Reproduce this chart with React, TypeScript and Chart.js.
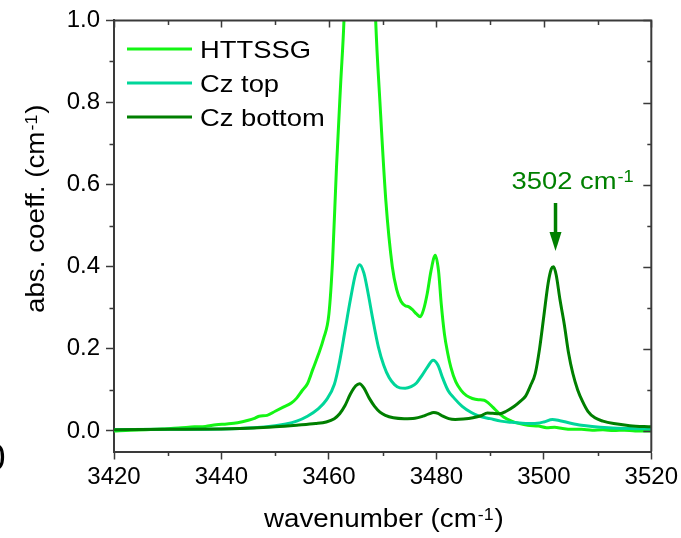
import React, { useEffect, useRef } from 'react';
import { Chart, registerables } from 'chart.js';

Chart.register(...registerables);

// ---------- data ----------
const SERIES_LABELS = ['HTTSSG', 'Cz top', 'Cz bottom'];
const SERIES_COLORS = ['#14f514', '#00d69a', '#007f00'];

const HTTSSG_X = [
  3420, 3423, 3426, 3429, 3432, 3435, 3437, 3439, 3441, 3443, 3445, 3446, 3447, 3448.5, 3450,
  3451.5, 3453, 3454, 3455, 3456, 3457, 3458, 3459, 3460, 3460.7, 3461.4, 3462.2, 3462.8, 3463.6,
  3464.8, 3466, 3467.2, 3468, 3468.7, 3469.5, 3470.6, 3471.8, 3472.6, 3473.4, 3474.2, 3474.8,
  3475.5, 3476.3, 3477.0, 3477.6, 3478.3, 3479.0, 3479.8, 3480.4, 3480.9, 3481.5, 3482.1, 3482.7,
  3483.6, 3484.6, 3485.6, 3486.7, 3487.8, 3488.9, 3489.6, 3490.5, 3491.5, 3492.5, 3494, 3495.5,
  3497, 3499, 3500.5, 3502, 3503.5, 3505, 3507, 3509, 3511, 3513, 3515, 3517, 3520,
];
const HTTSSG_Y = [
  0.0, 0.002, 0.003, 0.005, 0.007, 0.01, 0.011, 0.015, 0.017, 0.02, 0.026, 0.03, 0.036, 0.038, 0.048,
  0.058, 0.068, 0.08, 0.098, 0.115, 0.15, 0.185, 0.225, 0.285, 0.42, 0.64, 0.85, 1.0, 1.35,
  1.9, 2.3, 1.8, 1.3, 1.0, 0.8, 0.56, 0.4, 0.345, 0.316, 0.305, 0.303,
  0.296, 0.285, 0.278, 0.295, 0.335, 0.39, 0.428, 0.39, 0.31, 0.236, 0.19, 0.155,
  0.12, 0.099, 0.086, 0.079, 0.076, 0.075, 0.069, 0.058, 0.045, 0.034, 0.024, 0.018,
  0.014, 0.012, 0.008, 0.009, 0.006, 0.004, 0.004, 0.002, 0.003, 0.001, 0.002, 0.0, 0.0,
];

const CZTOP_X = [
  3420, 3430, 3440, 3446, 3450, 3452, 3454, 3456, 3458, 3459.5, 3461, 3462, 3463, 3464, 3465,
  3465.7, 3466.5, 3467.3, 3468.2, 3469.2, 3470.2, 3471.2, 3472.2, 3473.2, 3474.2, 3475.3, 3476.3,
  3477.3, 3478.3, 3479.4, 3480.3, 3481.2, 3482.2, 3483.3, 3484.8, 3486.5, 3488, 3490, 3492, 3494,
  3496, 3498, 3500, 3501.6, 3503, 3505, 3507, 3509, 3512, 3516, 3520,
];
const CZTOP_Y = [
  0.003, 0.004, 0.005, 0.008, 0.013, 0.017, 0.024, 0.036, 0.054, 0.075, 0.113, 0.17, 0.245, 0.32, 0.385,
  0.405, 0.385, 0.335, 0.27, 0.205, 0.16, 0.13, 0.113, 0.105, 0.104, 0.108, 0.117,
  0.135, 0.155, 0.172, 0.16, 0.128, 0.098, 0.08, 0.06, 0.045, 0.036, 0.03, 0.024, 0.021,
  0.019, 0.018, 0.022, 0.028, 0.025, 0.019, 0.014, 0.011, 0.008, 0.006, 0.005,
];

const CZBOT_X = [
  3420, 3430, 3440, 3446, 3450, 3454, 3457.5, 3459.5, 3461, 3462, 3463, 3464, 3465, 3465.7, 3466.5,
  3467.5, 3468.5, 3469.5, 3470.5, 3472, 3474, 3476, 3477.5, 3478.5, 3479.5, 3480.3, 3481.2, 3482.3,
  3483.5, 3485, 3486.8, 3488.3, 3489.5, 3490.5, 3491.8, 3493, 3494.5, 3495.6, 3496.6, 3497.5,
  3498.4, 3499.2, 3500, 3500.8, 3501.4, 3501.8, 3502.3, 3503, 3503.8, 3504.6, 3505.4, 3506.3,
  3507.2, 3508.2, 3509.5, 3511, 3513, 3516, 3520,
];
const CZBOT_Y = [
  0.003, 0.004, 0.005, 0.007, 0.01, 0.014, 0.018, 0.022, 0.03, 0.042, 0.062, 0.09, 0.11, 0.115, 0.105,
  0.08, 0.06, 0.046, 0.038, 0.032, 0.03, 0.031, 0.036, 0.041, 0.045, 0.043, 0.036, 0.03,
  0.028, 0.029, 0.032, 0.037, 0.044, 0.043, 0.042, 0.048, 0.06, 0.072, 0.085, 0.11,
  0.14, 0.2, 0.28, 0.36, 0.395, 0.4, 0.38, 0.32, 0.26, 0.19, 0.14, 0.1,
  0.072, 0.048, 0.032, 0.024, 0.018, 0.013, 0.01,
];

const X_TICKS = [3420, 3440, 3460, 3480, 3500, 3520];
const X_MINOR = [3430, 3450, 3470, 3490, 3510];
const Y_TICKS = [0.0, 0.2, 0.4, 0.6, 0.8, 1.0];
const Y_MINOR = [0.1, 0.3, 0.5, 0.7, 0.9];

const X_TITLE = ['wavenumber (cm', '-1', ')'];
const Y_TITLE = ['abs. coeff. (cm', '-1', ')'];
const PEAK_LABEL = ['3502 cm', '-1'];
const PEAK_X = 3501.8;
const PEAK_COLOR = '#008000';

// ---------- helpers ----------
const FONT = '"Liberation Sans", Arial, Helvetica, sans-serif';
const AXIS_COLOR = '#3a3a3a';

function txt(ctx: CanvasRenderingContext2D, text: string, x: number, y: number, size: number, sx: number) {
  ctx.save();
  ctx.font = `${size}px ${FONT}`;
  ctx.translate(x, y);
  ctx.scale(sx, 1);
  ctx.textAlign = 'left';
  ctx.textBaseline = 'alphabetic';
  ctx.fillText(text, 0, 0);
  const w = ctx.measureText(text).width * sx;
  ctx.restore();
  return w;
}

// draws "base" + superscript + tail starting at (x, baseline y) along local x-axis
function supText(ctx: CanvasRenderingContext2D, parts: string[], x: number, y: number, size: number, supSize: number, sx: number) {
  let cx = x;
  cx += txt(ctx, parts[0], cx, y, size, sx);
  cx += 1;
  cx += txt(ctx, parts[1], cx, y - 7, supSize, sx);
  if (parts[2]) {
    cx += 1;
    cx += txt(ctx, parts[2], cx, y, size, sx);
  }
  return cx - x;
}

const decorPlugin = {
  id: 'decor',
  afterDraw(chart: any) {
    const ctx: CanvasRenderingContext2D = chart.ctx;
    const { left, right, top, bottom } = chart.chartArea;
    const xs = chart.scales.x;
    const ys = chart.scales.y;

    ctx.save();
    ctx.strokeStyle = AXIS_COLOR;
    ctx.lineWidth = 2;
    // top + right frame
    ctx.beginPath();
    ctx.moveTo(left, top);
    ctx.lineTo(right, top);
    ctx.lineTo(right, bottom);
    ctx.stroke();

    ctx.lineWidth = 1.5;
    ctx.beginPath();
    // bottom minor (outward)
    X_MINOR.forEach((v) => {
      const px = Math.round(xs.getPixelForValue(v)) + 0.5;
      ctx.moveTo(px, bottom);
      ctx.lineTo(px, bottom + 4.5);
    });
    // left minor (outward)
    Y_MINOR.forEach((v) => {
      const py = Math.round(ys.getPixelForValue(v)) + 0.5;
      ctx.moveTo(left, py);
      ctx.lineTo(left - 4.5, py);
    });
    // top ticks (inward)
    X_TICKS.forEach((v) => {
      const px = Math.round(xs.getPixelForValue(v)) + 0.5;
      ctx.moveTo(px, top);
      ctx.lineTo(px, top + 7);
    });
    X_MINOR.forEach((v) => {
      const px = Math.round(xs.getPixelForValue(v)) + 0.5;
      ctx.moveTo(px, top);
      ctx.lineTo(px, top + 4.5);
    });
    // right ticks (inward)
    Y_TICKS.forEach((v) => {
      const py = Math.round(ys.getPixelForValue(v)) + 0.5;
      ctx.moveTo(right, py);
      ctx.lineTo(right - 8, py);
    });
    Y_MINOR.forEach((v) => {
      const py = Math.round(ys.getPixelForValue(v)) + 0.5;
      ctx.moveTo(right, py);
      ctx.lineTo(right - 4, py);
    });
    ctx.stroke();

    // legend (inside plot, top-left)
    chart.data.datasets.forEach((ds: any, i: number) => {
      const ly = 49 + i * 34;
      ctx.strokeStyle = ds.borderColor;
      ctx.lineWidth = 3;
      ctx.beginPath();
      ctx.moveTo(127, ly);
      ctx.lineTo(192, ly);
      ctx.stroke();
      ctx.fillStyle = '#000';
      txt(ctx, ds.label, 200, ly + 8.6, 24, 1.14);
    });

    // axis titles
    ctx.fillStyle = '#000';
    supText(ctx, X_TITLE, 264, 527, 25, 16, 1.11);
    ctx.save();
    ctx.translate(44, 313);
    ctx.rotate(-Math.PI / 2);
    supText(ctx, Y_TITLE, 0, 0, 25, 16, 1.11);
    ctx.restore();

    // peak annotation
    const ax = xs.getPixelForValue(PEAK_X) + 2;
    ctx.fillStyle = PEAK_COLOR;
    ctx.strokeStyle = PEAK_COLOR;
    supText(ctx, PEAK_LABEL, ax - 44, 188.5, 24, 16, 1.14);
    ctx.lineWidth = 3.5;
    ctx.beginPath();
    ctx.moveTo(ax, 203);
    ctx.lineTo(ax, 234);
    ctx.stroke();
    ctx.beginPath();
    ctx.moveTo(ax - 6, 232);
    ctx.lineTo(ax + 6, 232);
    ctx.lineTo(ax, 251);
    ctx.closePath();
    ctx.fill();

    // clipped panel-label fragment at the far left edge
    ctx.fillStyle = '#000';
    ctx.font = `37px ${FONT}`;
    ctx.textAlign = 'right';
    ctx.textBaseline = 'alphabetic';
    ctx.fillText('0', 5.5, 470);
    ctx.restore();
  },
};

export default function App() {
  const ref = useRef<HTMLCanvasElement | null>(null);

  useEffect(() => {
    if (!ref.current) return;
    const mk = (xs: number[], ys: number[]) => xs.map((x, i) => ({ x, y: ys[i] }));
    const seriesData = [mk(HTTSSG_X, HTTSSG_Y), mk(CZTOP_X, CZTOP_Y), mk(CZBOT_X, CZBOT_Y)];
    const tickFont = { family: FONT, size: 24 };

    const chart = new Chart(ref.current, {
      type: 'line',
      data: {
        datasets: seriesData.map((d, i) => ({
          label: SERIES_LABELS[i],
          data: d,
          borderColor: SERIES_COLORS[i],
          backgroundColor: SERIES_COLORS[i],
          borderWidth: 3,
          pointRadius: 0,
          fill: false,
          cubicInterpolationMode: 'monotone' as const,
          clip: 0,
          order: 2 - i,
        })),
      },
      options: {
        responsive: false,
        animation: false,
        events: [],
        layout: { padding: { top: 19, right: 29, left: 0, bottom: 0 } },
        plugins: { legend: { display: false }, tooltip: { enabled: false }, title: { display: false } },
        scales: {
          x: {
            type: 'linear',
            min: 3420,
            max: 3520,
            afterBuildTicks: (s: any) => {
              s.ticks = X_TICKS.map((v) => ({ value: v }));
            },
            afterFit: (s: any) => {
              s.height = 538 - 451.5;
            },
            ticks: {
              callback: (v: any) => String(v),
              font: tickFont,
              color: '#000',
              padding: 3,
              maxRotation: 0,
              autoSkip: false,
            },
            grid: {
              display: true,
              drawOnChartArea: false,
              drawTicks: true,
              tickLength: 8,
              tickColor: AXIS_COLOR,
              tickWidth: 1.5,
            },
            border: { display: true, color: AXIS_COLOR, width: 2 },
          },
          y: {
            type: 'linear',
            min: -0.05,
            max: 1.0,
            afterBuildTicks: (s: any) => {
              s.ticks = Y_TICKS.map((v) => ({ value: v }));
            },
            afterFit: (s: any) => {
              s.width = 114;
            },
            ticks: {
              callback: (v: any) => Number(v).toFixed(1),
              font: tickFont,
              color: '#000',
              padding: 6,
              autoSkip: false,
            },
            grid: {
              display: true,
              drawOnChartArea: false,
              drawTicks: true,
              tickLength: 8,
              tickColor: AXIS_COLOR,
              tickWidth: 1.5,
            },
            border: { display: true, color: AXIS_COLOR, width: 2 },
          },
        },
      },
      plugins: [decorPlugin],
    } as any);

    return () => chart.destroy();
  }, []);

  return (
    <div style={{ position: 'absolute', left: 0, top: 0, width: 681, height: 538, background: '#fff' }}>
      <canvas ref={ref} width={681} height={538} />
    </div>
  );
}
